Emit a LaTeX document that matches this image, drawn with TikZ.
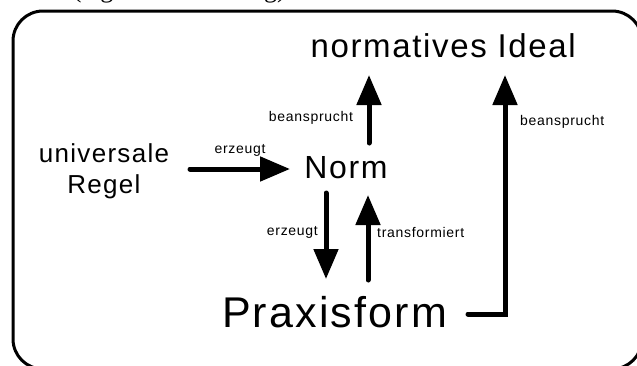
\documentclass[tikz,border=0pt]{standalone}
\usepackage{fontspec}
\setmainfont{Liberation Sans}[LetterSpace=5]
\newfontfamily\capfont{Liberation Serif}
\usetikzlibrary{arrows.meta}
\begin{document}
\begin{tikzpicture}[x=1pt,y=-1pt,
  lbl/.style={inner sep=0pt,font=\fontsize{14}{16}\selectfont},
  big/.style={inner sep=0pt,anchor=base},
  arr/.style={line width=5pt,line cap=round,-{Triangle[length=30pt,width=24pt]}},
  conn/.style={line width=5pt,line cap=round,line join=miter}]
\useasboundingbox (0,0) rectangle (637,365);
% partly visible caption
\node[inner sep=0pt,anchor=base west,font=\capfont\fontsize{26}{28}\selectfont] (cap) at (72.7,-2.5) {(eigene Darstellung)};
% frame
\draw[line width=3pt,rounded corners=30pt] (13,11) rectangle (642,369);
% texts
\node[big,anchor=base east,font=\fontsize{33}{36}\selectfont] (ideal) at (576,57) {normatives Ideal};
\node[big,font=\fontsize{32}{36}\selectfont] (norm) at (346,178) {Norm};
\node[big,font=\fontsize{26}{30}\selectfont] (univ) at (104,162) {universale};
\node[big,font=\fontsize{26}{30}\selectfont] (regel) at (104,193) {Regel};
\node[big,font=\fontsize{43}{48}\selectfont] (praxis) at (334.5,327) {Praxisform};
% anchor coordinates
\coordinate (hA) at (190,169); \coordinate (hB) at (290,169);
\coordinate (nA) at (369,143); \coordinate (nB) at (369,75);
\coordinate (dA) at (326,193); \coordinate (dB) at (326,279);
\coordinate (tA) at (368,280); \coordinate (tB) at (368,195);
\coordinate (rA) at (468,314); \coordinate (rC) at (505,314); \coordinate (rB) at (505,75);
% arrows
\draw[arr] (hA) -- (hB);
\draw[arr] (nA) -- (nB);
\draw[arr] (dA) -- (dB);
\draw[arr] (tA) -- (tB);
\draw[conn,-{Triangle[length=30pt,width=24pt]}] (rA) -- (rC) -- (rB);
% labels
\node[lbl] (l1) at (240,150) {erzeugt};
\node[lbl] (l2) at (311,118) {beansprucht};
\node[lbl,anchor=east] (l3) at (318,232) {erzeugt};
\node[lbl,anchor=west] (l4) at (377,232) {transformiert};
\node[lbl,anchor=west] (l5) at (520,122) {beansprucht};
\end{tikzpicture}
\end{document}
